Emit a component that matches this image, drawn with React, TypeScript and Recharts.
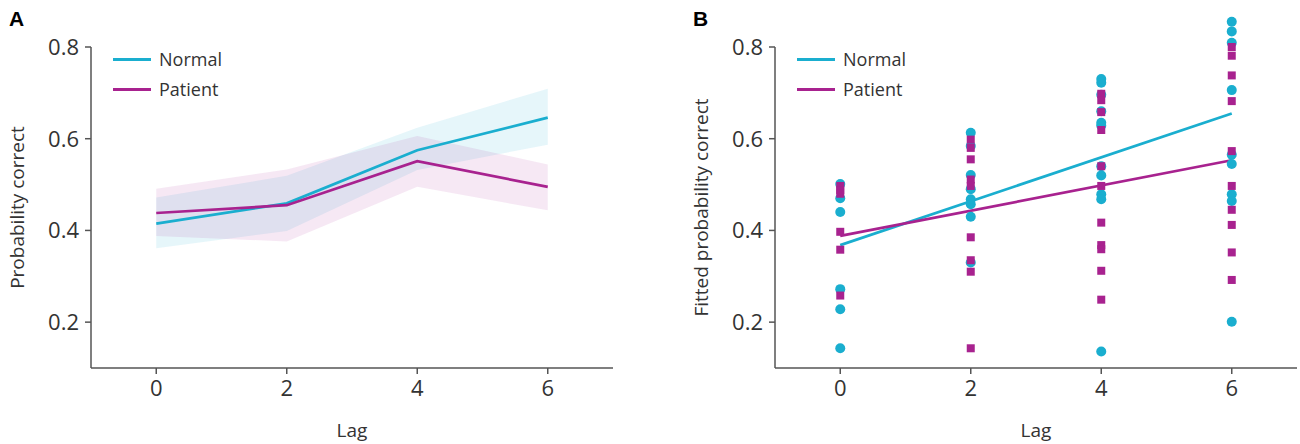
import {
  Area,
  ComposedChart,
  Line,
  ReferenceLine,
  Scatter,
  XAxis,
  YAxis
} from "recharts";

const lags = [0, 2, 4, 6];

// panel A: mean and band per lag
const normalMean = [0.415, 0.459, 0.575, 0.646];
const normalLow = [0.361, 0.399, 0.532, 0.587];
const normalHigh = [0.472, 0.519, 0.624, 0.709];
const patientMean = [0.438, 0.455, 0.551, 0.495];
const patientLow = [0.388, 0.376, 0.495, 0.444];
const patientHigh = [0.491, 0.533, 0.606, 0.544];

// panel B: fitted values per subject, one list per lag
const normalLag0 = [0.501, 0.47, 0.44, 0.272, 0.228, 0.143];
const normalLag2 = [0.613, 0.584, 0.521, 0.49, 0.468, 0.457, 0.43, 0.33];
const normalLag4 = [0.73, 0.722, 0.696, 0.66, 0.635, 0.629, 0.54, 0.52, 0.479, 0.468, 0.136];
const normalLag6 = [0.855, 0.834, 0.809, 0.706, 0.565, 0.545, 0.479, 0.464, 0.201];
const patientLag0 = [0.497, 0.488, 0.48, 0.397, 0.358, 0.258];
const patientLag2 = [0.598, 0.58, 0.555, 0.511, 0.497, 0.385, 0.335, 0.31, 0.143];
const patientLag4 = [0.698, 0.684, 0.658, 0.619, 0.54, 0.497, 0.417, 0.368, 0.359, 0.312, 0.249];
const patientLag6 = [0.8, 0.781, 0.738, 0.682, 0.573, 0.497, 0.445, 0.412, 0.352, 0.292];

// regression lines, value at lag 0 and lag 6
const fitLags = [0, 6];
const normalFit = [0.368, 0.655];
const patientFit = [0.388, 0.553];

const yTicks = [0.2, 0.4, 0.6, 0.8];
const xTicks = [0, 2, 4, 6];

const BLUE = "#1aaecf";
const PINK = "#a8228f";
const AXIS = "#555";
const FONT = "'Open Sans', 'Noto Sans', sans-serif";

const bandData = lags.map((lag, i) => ({
  lag,
  normal: normalMean[i],
  patient: patientMean[i],
  normalBand: [normalLow[i], normalHigh[i]],
  patientBand: [patientLow[i], patientHigh[i]]
}));

const toPoints = (groups: number[][]) =>
  groups.flatMap((vals, i) => vals.map((v) => ({ lag: lags[i], value: v })));

const normalPoints = toPoints([normalLag0, normalLag2, normalLag4, normalLag6]);
const patientPoints = toPoints([patientLag0, patientLag2, patientLag4, patientLag6]);
const normalLine = fitLags.map((lag, i) => ({ lag, value: normalFit[i] }));
const patientLine = fitLags.map((lag, i) => ({ lag, value: patientFit[i] }));

const tickStyle = { fill: "#333", fontSize: 22, fontFamily: FONT };
const labelStyle = { fill: "#333", fontSize: 19, fontFamily: FONT };

function LegendBox({ left }: { left: number }) {
  const rows = [
    { name: "Normal", color: BLUE },
    { name: "Patient", color: PINK }
  ];
  return (
    <div style={{ position: "absolute", left, top: 44, fontFamily: FONT, fontSize: 18, color: "#333" }}>
      {rows.map((r) => (
        <div key={r.name} style={{ display: "flex", alignItems: "center", height: 30 }}>
          <span
            style={{ width: 38, height: 3, background: r.color, marginRight: 8, display: "inline-block" }}
          />
          {r.name}
        </div>
      ))}
    </div>
  );
}

const Dot = (props: any) => <circle cx={props.cx} cy={props.cy} r={5} fill={BLUE} />;
const Square = (props: any) => (
  <rect x={props.cx - 4} y={props.cy - 4} width={8} height={8} fill={PINK} />
);

// y title centred on the 0.1–0.8 span of the axis
const yTitle = (text: string) => () => (
  <text
    x={17}
    y={207.5}
    transform="rotate(-90 17 207.5)"
    textAnchor="middle"
    dominantBaseline="central"
    style={labelStyle}
  >
    {text}
  </text>
);

function commonAxes(yLabel: string, yMax: number, spine: boolean) {
  return [
    <XAxis
      key="x"
      dataKey="lag"
      type="number"
      domain={[-1, 7]}
      ticks={xTicks}
      height={76}
      tickSize={6}
      tickMargin={6}
      stroke={AXIS}
      strokeWidth={1.5}
      tick={tickStyle}
      allowDataOverflow
      label={{ value: "Lag", position: "insideBottom", offset: 7, style: labelStyle }}
    />,
    <YAxis
      key="y"
      type="number"
      domain={[0.1, yMax]}
      ticks={yTicks}
      width={91}
      tickSize={6}
      tickMargin={6}
      stroke={AXIS}
      strokeWidth={1.5}
      axisLine={spine}
      tick={tickStyle}
      allowDataOverflow
      label={yTitle(yLabel)}
    />
  ];
}

export default function App() {
  return (
    <div style={{ position: "absolute", left: 0, top: 0, width: 1300, height: 444, overflow: "hidden", background: "#fff" }}>
      <div style={{ position: "absolute", left: 9, top: 7, fontFamily: "'Liberation Sans', Arial, sans-serif", fontWeight: 700, fontSize: 21 }}>
        A
      </div>
      <div style={{ position: "absolute", left: 693, top: 7, fontFamily: "'Liberation Sans', Arial, sans-serif", fontWeight: 700, fontSize: 21 }}>
        B
      </div>

      <div style={{ position: "absolute", left: 0, top: 0 }}>
        <ComposedChart width={650} height={444} data={bandData} margin={{ top: 47, right: 37, bottom: 0, left: 0 }}>
          {commonAxes("Probability correct", 0.8, true)}
          <Area dataKey="normalBand" stroke="none" fill={BLUE} fillOpacity={0.11} type="linear" isAnimationActive={false} />
          <Area dataKey="patientBand" stroke="none" fill={PINK} fillOpacity={0.1} type="linear" isAnimationActive={false} />
          <Line dataKey="normal" stroke={BLUE} strokeWidth={2.7} dot={false} type="linear" isAnimationActive={false} />
          <Line dataKey="patient" stroke={PINK} strokeWidth={2.7} dot={false} type="linear" isAnimationActive={false} />
        </ComposedChart>
      </div>
      <LegendBox left={113} />

      {/* panel B: plot extends to 0.9 so the top points are not clipped; spine stops at 0.8 */}
      <div style={{ position: "absolute", left: 684, top: 0 }}>
        <ComposedChart width={616} height={444} margin={{ top: 1.14, right: 3, bottom: 0, left: 0 }}>
          {commonAxes("Fitted probability correct", 0.9, false)}
          <ReferenceLine
            segment={[{ x: -1, y: 0.1 }, { x: -1, y: 0.8 }]}
            stroke={AXIS}
            strokeWidth={1.5}
          />
          <Scatter data={normalPoints} dataKey="value" shape={Dot} isAnimationActive={false} />
          <Scatter data={patientPoints} dataKey="value" shape={Square} isAnimationActive={false} />
          <Line data={normalLine} dataKey="value" stroke={BLUE} strokeWidth={2.7} dot={false} type="linear" isAnimationActive={false} />
          <Line data={patientLine} dataKey="value" stroke={PINK} strokeWidth={2.7} dot={false} type="linear" isAnimationActive={false} />
        </ComposedChart>
      </div>
      <LegendBox left={797} />
    </div>
  );
}
